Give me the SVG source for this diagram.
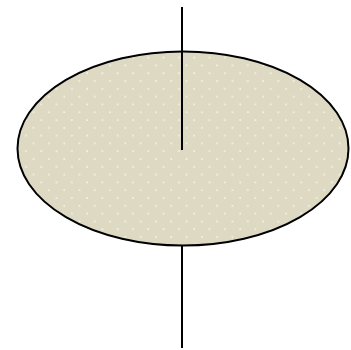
<svg xmlns="http://www.w3.org/2000/svg" width="351" height="350" viewBox="0 0 351 350">
<defs>
<pattern id="dots" patternUnits="userSpaceOnUse" x="0" y="0" width="15.3" height="15.6">
<rect width="15.3" height="15.6" fill="#ddd9c3"/>
<circle cx="3" cy="3" r="0.9" fill="#ffffff" opacity="0.85"/>
<circle cx="10.65" cy="10.8" r="0.9" fill="#ffffff" opacity="0.85"/>
</pattern>
</defs>
<style>
.ln{stroke:#000;stroke-width:2;fill:none}
</style>
<rect width="351" height="350" fill="#ffffff"/>
<g id="ellipse">
<ellipse cx="183" cy="148.5" rx="165.5" ry="97" fill="url(#dots)" stroke="#000" stroke-width="2"/>
</g>
<g id="connectors">
<line class="ln" x1="182" y1="7" x2="182" y2="150"/>
<line class="ln" x1="182" y1="246" x2="182" y2="348"/>
</g>
</svg>
